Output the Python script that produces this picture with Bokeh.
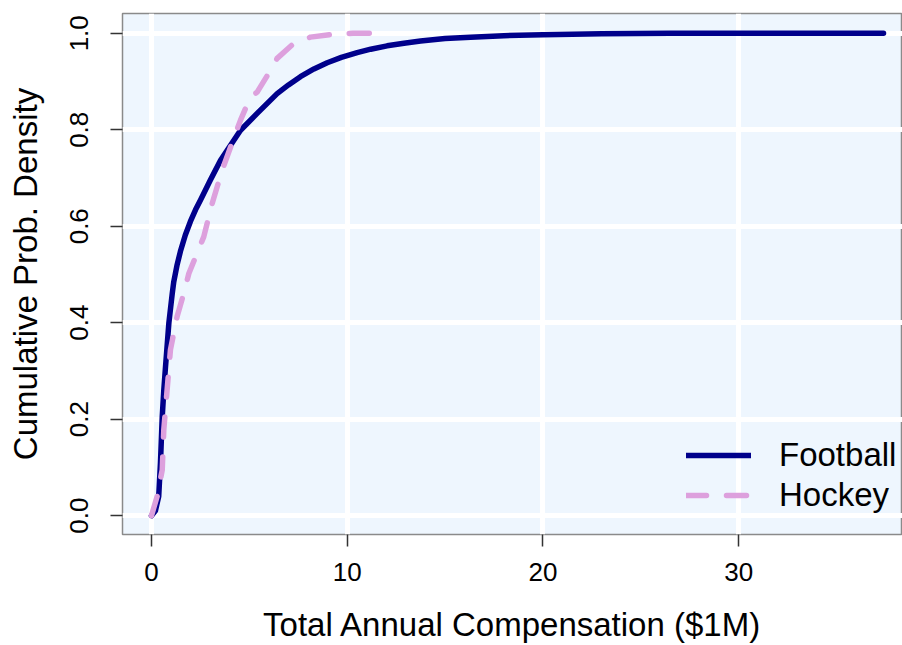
from bokeh.plotting import figure
from bokeh.models import Range1d, FixedTicker, NumeralTickFormatter, Legend, LegendItem
from bokeh.embed import file_html
from bokeh.resources import INLINE

# Empirical CDF of total annual compensation ($1M)
football_x = [0.0, 0.2, 0.37, 0.46, 0.55, 0.63, 0.72, 0.89, 1.06, 1.14, 1.31, 1.48, 1.73, 1.99, 2.25,
              2.5, 3.01, 3.53, 4.04, 4.55, 5.40, 6.42, 7.0, 7.61, 8.3, 8.98, 9.7, 10.51, 11.2,
              12.04, 12.9, 13.75, 15.0, 16.3, 18.0, 20.0, 23.0, 26.5, 37.4]
football_y = [0.0, 0.01, 0.04, 0.11, 0.205, 0.26, 0.31, 0.40, 0.46, 0.485, 0.52, 0.548, 0.582, 0.610, 0.634,
              0.654, 0.696, 0.737, 0.768, 0.799, 0.834, 0.875, 0.893, 0.910, 0.926, 0.939, 0.950, 0.960, 0.967,
              0.974, 0.9795, 0.984, 0.989, 0.992, 0.995, 0.997, 0.999, 1.0, 1.0]

hockey_x = [0.0, 0.29, 0.55, 0.63, 0.80, 0.97, 1.31, 1.65, 1.91, 2.67, 3.10, 3.61,
            4.29, 4.55, 5.06, 5.40, 6.08, 6.42, 7.27, 8.12, 9.49, 10.3, 11.5]
hockey_y = [0.0, 0.04, 0.095, 0.178, 0.261, 0.344, 0.413, 0.461, 0.502, 0.578, 0.647, 0.716,
            0.792, 0.820, 0.868, 0.878, 0.923, 0.948, 0.979, 0.992, 0.999, 1.0, 1.0]

x_ticks = [0, 10, 20, 30]
y_ticks = [0.0, 0.2, 0.4, 0.6, 0.8, 1.0]

FONT = "Liberation Sans"

p = figure(width=902, height=645,
           x_range=Range1d(-1.48, 38.37), y_range=Range1d(-0.039, 1.041),
           output_backend="svg", toolbar_location=None,
           min_border_left=122, min_border_right=0, min_border_top=13, min_border_bottom=110)

p.background_fill_color = "#EEF6FE"
p.border_fill_color = "white"
p.outline_line_color = "#8a8a8a"
p.outline_line_width = 1.5

# grid
p.xgrid.ticker = FixedTicker(ticks=x_ticks)
p.ygrid.ticker = FixedTicker(ticks=y_ticks)
for g in (p.xgrid, p.ygrid):
    g.grid_line_color = "white"
    g.grid_line_width = 5

# axes
p.xaxis.ticker = FixedTicker(ticks=x_ticks)
p.yaxis.ticker = FixedTicker(ticks=y_ticks)
p.yaxis.formatter = NumeralTickFormatter(format="0.0")
p.yaxis.major_label_orientation = "vertical"
for ax in (p.xaxis, p.yaxis):
    ax.axis_line_color = None
    ax.major_tick_line_color = "#333333"
    ax.major_tick_line_width = 1.5
    ax.major_tick_out = 12
    ax.major_tick_in = 0
    ax.minor_tick_line_color = None
    ax.major_label_text_font = FONT
    ax.major_label_text_font_size = "26px"
    ax.major_label_text_color = "black"
    ax.axis_label_text_font = FONT
    ax.axis_label_text_font_size = "33px"
    ax.axis_label_text_font_style = "normal"
    ax.axis_label_text_color = "black"

p.xaxis.axis_label = "Total Annual Compensation ($1M)"
p.yaxis.axis_label = "Cumulative Prob. Density"
p.xaxis.major_label_standoff = 16
p.xaxis.axis_label_standoff = 22
p.yaxis.major_label_standoff = 22
p.yaxis.axis_label_standoff = 24

fb = p.line(football_x, football_y, line_color="#00008B", line_width=5.5,
            line_cap="round", line_join="round")
hk = p.line(hockey_x, hockey_y, line_color="#DDA0DD", line_width=5.5,
            line_dash="20 20", line_cap="round", line_join="round")

legend = Legend(items=[LegendItem(label="Football", renderers=[fb]),
                       LegendItem(label="Hockey", renderers=[hk])],
                location=(564, 20))
legend.border_line_color = None
legend.background_fill_alpha = 0
legend.label_text_font = FONT
legend.label_text_font_size = "33px"
legend.label_text_color = "black"
legend.glyph_width = 65
legend.glyph_height = 36
legend.label_standoff = 28
legend.label_height = 36
legend.spacing = 2
legend.margin = 0
legend.padding = 0
p.add_layout(legend)

open("out.html", "w").write(file_html(p, INLINE))
